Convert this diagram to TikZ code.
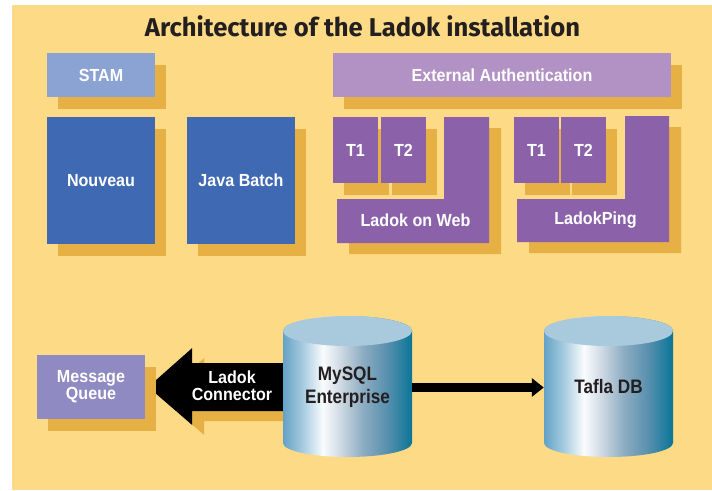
\documentclass[tikz,border=0pt]{standalone}
\usepackage{fontspec}
\setmainfont{Liberation Sans}
\newfontfamily\labfont{Liberation Sans}[FakeStretch=0.92]
\newfontfamily\cylfont{Liberation Sans}[FakeStretch=0.88]
\newfontfamily\titlefont{Fira Sans}
\usetikzlibrary{calc,shadows,arrows.meta}

\definecolor{bgc}{RGB}{253,218,133}
\definecolor{shc}{RGB}{230,176,69}
\definecolor{stamc}{RGB}{139,163,211}
\definecolor{bluec}{RGB}{63,106,179}
\definecolor{extc}{RGB}{178,146,196}
\definecolor{purc}{RGB}{139,98,170}
\definecolor{mqc}{RGB}{143,138,194}
\definecolor{titlec}{RGB}{35,31,32}
\definecolor{cyltop}{RGB}{169,201,221}
\definecolor{cs0}{RGB}{100,162,198}
\definecolor{cs1}{RGB}{165,202,223}
\definecolor{cs2}{RGB}{250,252,253}
\definecolor{cs3}{RGB}{205,216,226}
\definecolor{cs4}{RGB}{140,172,194}
\definecolor{cs5}{RGB}{90,145,175}
\definecolor{cs6}{RGB}{10,117,152}
\pgfdeclarehorizontalshading{cylsh}{100bp}{color(0bp)=(cs0); color(25bp)=(cs0); color(32.5bp)=(cs1); color(40.5bp)=(cs2); color(47.5bp)=(cs3); color(56bp)=(cs4); color(65bp)=(cs5); color(75bp)=(cs6); color(100bp)=(cs6)}

\pgfdeclarelayer{bgl}
\pgfdeclarelayer{back}
\pgfsetlayers{bgl,back,main}

\newcommand{\cylshape}[1]{%
  \shade[shading=cylsh] (#1-64.5,331) -- (#1-64.5,443)
    arc[start angle=180,end angle=0,x radius=64.5,y radius=14]
    -- (#1+64.5,331)
    arc[start angle=0,end angle=-180,x radius=64.5,y radius=15] -- cycle;
  \fill[cyltop] (#1,331) ellipse[x radius=64.5,y radius=15];
}

\begin{document}
\begin{tikzpicture}[x=1pt,y=-1pt,
  lab/.style={font=\labfont\fontsize{17.5}{17.3}\selectfont\bfseries, text=white, align=center},
  boxn/.style={rectangle, inner sep=0pt, draw=none, lab,
    drop shadow={shadow xshift=11pt, shadow yshift=-12pt, fill=shc, opacity=1}},
  lshadow/.style={fill=shc, shift={(12,11)}},
  cyll/.style={rectangle, inner sep=0pt, minimum width=129pt, minimum height=141pt,
    font=\cylfont\fontsize{19.5}{23.3}\selectfont\bfseries, text=titlec, align=center},
  fatarrow/.style={fill=black},
  thinarrow/.style={line width=9pt, -{Triangle[length=12pt,width=18pt]}},
]
\useasboundingbox (0,0) rectangle (712,490);
\begin{pgfonlayer}{bgl}
  \fill[white] (0,0) rectangle (712,490);
  \fill[bgc] (12,5) rectangle (712,490);
\end{pgfonlayer}

% title
\node[anchor=base, text=titlec, inner sep=0pt] (title) at (362.5,36)
  {\resizebox{435pt}{\height}{\titlefont\fontsize{25.7}{28}\selectfont\bfseries Architecture of the Ladok installation}};

% top left boxes
\node[boxn, fill=stamc, minimum width=108pt, minimum height=44pt] (stam) at (101,75) {STAM};
\node[boxn, fill=bluec, minimum width=108pt, minimum height=127pt] (nouveau) at (101,180.5) {Nouveau};
\node[boxn, fill=bluec, minimum width=108pt, minimum height=127pt] (java) at (241,180.5) {Java Batch};

% external authentication
\node[boxn, fill=extc, minimum width=338pt, minimum height=44pt] (ext) at (502,75) {External Authentication};

% Ladok on Web group
\fill[lshadow] (444,117) -- (489,117) -- (489,243) -- (337,243) -- (337,199) -- (444,199) -- cycle;
\node[boxn, fill=purc, minimum width=45pt, minimum height=66pt] (t1a) at (355.5,150) {T1};
\node[boxn, fill=purc, minimum width=45pt, minimum height=66pt] (t2a) at (403.5,150) {T2};
\fill[purc] (444,117) -- (489,117) -- (489,243) -- (337,243) -- (337,199) -- (444,199) -- cycle;
\node[lab] (low) at (415.5,220) {Ladok on Web};

% LadokPing group
\fill[lshadow] (625,116) -- (669,116) -- (669,242) -- (517,242) -- (517,199) -- (625,199) -- cycle;
\node[boxn, fill=purc, minimum width=45pt, minimum height=66pt] (t1b) at (536.5,150) {T1};
\node[boxn, fill=purc, minimum width=45pt, minimum height=66pt] (t2b) at (583.5,150) {T2};
\fill[purc] (625,116) -- (669,116) -- (669,242) -- (517,242) -- (517,199) -- (625,199) -- cycle;
\node[lab] (ping) at (595.5,220) {LadokPing};

% message queue
\node[boxn, fill=mqc, minimum width=108pt, minimum height=64pt] (mq) at (91,387) {Message\\Queue};

% cylinders
\cylshape{347.5}
\node[cyll] (mysql) at (347.5,387) {MySQL\\Enterprise};
\cylshape{608.5}
\node[cyll] (tafla) at (608.5,387) {Tafla DB};

% fat arrow MySQL -> Message Queue (behind the cylinder)
\begin{pgfonlayer}{back}
  \fill[shc] ($(mq.east)+(15,10)$) -- ++(44,-39) -- ++(0,15) -- ++(100,0) -- ++(0,48) -- ++(-100,0) -- ++(0,14) -- cycle;
  \fill[fatarrow] ($(mq.east)+(3,0)$) -- ++(44,-39) -- ++(0,15) -- ++(100,0) -- ++(0,48) -- ++(-100,0) -- ++(0,14) -- cycle;
\end{pgfonlayer}
\node[lab] (conn) at (232,386) {Ladok\\Connector};

% thin arrow MySQL -> Tafla
\draw[thinarrow] ($(mysql.east)+(0,0.5)$) -- ($(tafla.west)+(0,0.5)$);
\end{tikzpicture}
\end{document}
